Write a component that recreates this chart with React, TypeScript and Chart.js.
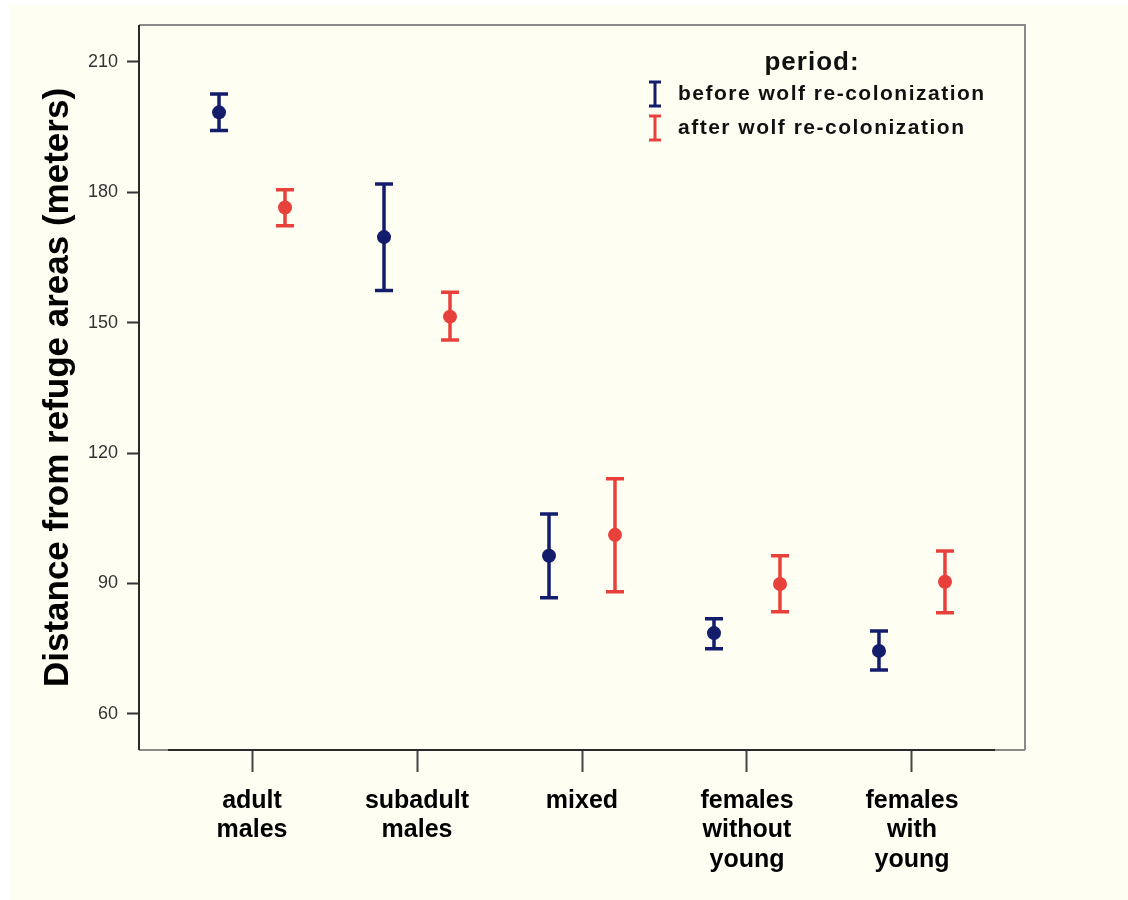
import React, { useEffect, useRef } from "react";
import { Chart, registerables } from "chart.js";

Chart.register(...registerables);

// ---- data ----
const categories: string[][] = [
  ["adult", "males"],
  ["subadult", "males"],
  ["mixed"],
  ["females", "without", "young"],
  ["females", "with", "young"],
];
const beforeMean = [198.4, 169.7, 96.4, 78.6, 74.5];
const beforeLow = [194.2, 157.4, 86.7, 75.0, 70.1];
const beforeHigh = [202.6, 181.9, 106.0, 81.9, 79.1];
const afterMean = [176.5, 151.4, 101.2, 89.9, 90.4];
const afterLow = [172.3, 146.0, 88.1, 83.5, 83.3];
const afterHigh = [180.6, 157.0, 114.1, 96.4, 97.5];
const yTicks = [60, 90, 120, 150, 180, 210];
const legendTitle = "period:";
const seriesNames = ["before wolf re-colonization", "after wolf re-colonization"];
const yTitle = "Distance from refuge areas (meters)";

// ---- style ----
const NAVY = "#141c6c";
const RED = "#e8413c";
const CREAM = "#fefef3";
const OFFSET = 0.2;
const FONT = "'Liberation Sans', Arial, Helvetica, sans-serif";

export default function App() {
  const ref = useRef<HTMLCanvasElement | null>(null);

  useEffect(() => {
    if (!ref.current) return;

    const bgPlugin = {
      id: "bg",
      beforeDraw(chart: any) {
        const ctx = chart.ctx;
        ctx.save();
        ctx.fillStyle = "#ffffff";
        ctx.fillRect(0, 0, chart.width, chart.height);
        ctx.fillStyle = CREAM;
        ctx.fillRect(10, 5, chart.width - 10, chart.height - 5);
        ctx.restore();
      },
    };

    const errorBarPlugin = {
      id: "errorBars",
      beforeDatasetsDraw(chart: any) {
        const ctx = chart.ctx;
        const xs = chart.scales.x;
        const ys = chart.scales.y;
        const series = [
          { low: beforeLow, high: beforeHigh, off: -OFFSET, color: NAVY },
          { low: afterLow, high: afterHigh, off: OFFSET, color: RED },
        ];
        ctx.save();
        ctx.lineWidth = 3.5;
        ctx.lineCap = "butt";
        series.forEach((s) => {
          ctx.strokeStyle = s.color;
          categories.forEach((_, i) => {
            const x = xs.getPixelForValue(i + 1 + s.off);
            const y1 = ys.getPixelForValue(s.low[i]);
            const y2 = ys.getPixelForValue(s.high[i]);
            ctx.beginPath();
            ctx.moveTo(x, y1);
            ctx.lineTo(x, y2);
            ctx.moveTo(x - 9, y1);
            ctx.lineTo(x + 9, y1);
            ctx.moveTo(x - 9, y2);
            ctx.lineTo(x + 9, y2);
            ctx.stroke();
          });
        });
        ctx.restore();
      },
    };

    const framePlugin = {
      id: "frame",
      afterDraw(chart: any) {
        const ctx = chart.ctx;
        const a = chart.chartArea;
        ctx.save();
        ctx.lineWidth = 2;
        // top + right (gray)
        ctx.strokeStyle = "#8a8a8a";
        ctx.beginPath();
        ctx.moveTo(a.left, a.top);
        ctx.lineTo(a.right, a.top);
        ctx.lineTo(a.right, a.bottom);
        ctx.stroke();
        // bottom (gray ends, dark middle)
        ctx.beginPath();
        ctx.moveTo(a.left, a.bottom);
        ctx.lineTo(a.left + 29, a.bottom);
        ctx.moveTo(a.right - 30, a.bottom);
        ctx.lineTo(a.right, a.bottom);
        ctx.stroke();
        ctx.strokeStyle = "#2a2a2a";
        ctx.beginPath();
        ctx.moveTo(a.left + 29, a.bottom);
        ctx.lineTo(a.right - 30, a.bottom);
        ctx.stroke();
        // left (dark)
        ctx.beginPath();
        ctx.moveTo(a.left, a.top);
        ctx.lineTo(a.left, a.bottom);
        ctx.stroke();

        // legend
        const lx = a.right - 370;
        ctx.fillStyle = "#111111";
        ctx.textAlign = "center";
        ctx.textBaseline = "middle";
        ctx.font = `bold 26px ${FONT}`;
        (ctx as any).letterSpacing = "1px";
        ctx.fillText(legendTitle, a.right - 213, a.top + 38);
        const colors = [NAVY, RED];
        seriesNames.forEach((name, i) => {
          const cy = a.top + 69 + i * 34;
          ctx.strokeStyle = colors[i];
          ctx.lineWidth = 3;
          ctx.beginPath();
          ctx.moveTo(lx, cy - 12);
          ctx.lineTo(lx, cy + 12);
          ctx.moveTo(lx - 6, cy - 12);
          ctx.lineTo(lx + 6, cy - 12);
          ctx.moveTo(lx - 6, cy + 12);
          ctx.lineTo(lx + 6, cy + 12);
          ctx.stroke();
          ctx.fillStyle = "#111111";
          ctx.textAlign = "left";
          ctx.font = `bold 21px ${FONT}`;
          (ctx as any).letterSpacing = "1.5px";
          ctx.fillText(name, lx + 23, cy);
        });
        (ctx as any).letterSpacing = "0px";
        ctx.restore();
      },
    };

    const chart = new Chart(ref.current, {
      type: "scatter",
      data: {
        datasets: [
          {
            label: seriesNames[0],
            data: categories.map((_, i) => ({ x: i + 1 - OFFSET, y: beforeMean[i] })),
            backgroundColor: NAVY,
            borderColor: NAVY,
            pointRadius: 7,
            pointBorderWidth: 0,
          },
          {
            label: seriesNames[1],
            data: categories.map((_, i) => ({ x: i + 1 + OFFSET, y: afterMean[i] })),
            backgroundColor: RED,
            borderColor: RED,
            pointRadius: 7,
            pointBorderWidth: 0,
          },
        ],
      },
      options: {
        animation: false,
        responsive: false,
        devicePixelRatio: 1,
        layout: { padding: { top: 25, right: 103, bottom: 0, left: 0 } },
        plugins: {
          legend: { display: false },
          tooltip: { enabled: false },
        },
        scales: {
          x: {
            type: "linear",
            min: 0.315,
            max: 5.685,
            afterBuildTicks: (scale: any) => {
              scale.ticks = categories.map((_, i) => ({ value: i + 1 }));
            },
            afterFit: (scale: any) => {
              scale.height = 150;
            },
            border: { display: false },
            grid: {
              drawOnChartArea: false,
              drawTicks: true,
              tickLength: 22,
              tickColor: "#444444",
              tickWidth: 2,
            },
            ticks: {
              autoSkip: false,
              maxRotation: 0,
              padding: 14,
              color: "#000000",
              font: { family: FONT, size: 25, weight: "bold", lineHeight: 1.18 },
              callback: (v: any) => categories[Math.round(Number(v)) - 1] ?? "",
            },
          },
          y: {
            type: "linear",
            min: 51.7,
            max: 218.5,
            afterBuildTicks: (scale: any) => {
              scale.ticks = yTicks.map((v) => ({ value: v }));
            },
            afterFit: (scale: any) => {
              scale.width = 139;
            },
            border: { display: false },
            grid: {
              drawOnChartArea: false,
              drawTicks: true,
              tickLength: 12,
              tickColor: "#333333",
              tickWidth: 2,
            },
            ticks: {
              padding: 9,
              color: "#333333",
              font: { family: FONT, size: 18 },
            },
            title: {
              display: true,
              text: yTitle,
              color: "#000000",
              font: { family: FONT, size: 35, weight: "bold" },
              padding: { top: 37, bottom: 0 },
            },
          },
        },
      },
      plugins: [bgPlugin, errorBarPlugin, framePlugin],
    } as any);

    return () => chart.destroy();
  }, []);

  return (
    <div
      style={{
        position: "fixed",
        left: 0,
        top: 0,
        width: 1128,
        height: 900,
        background: "#ffffff",
      }}
    >
      <canvas ref={ref} width={1128} height={900} style={{ display: "block", width: 1128, height: 900 }} />
    </div>
  );
}
